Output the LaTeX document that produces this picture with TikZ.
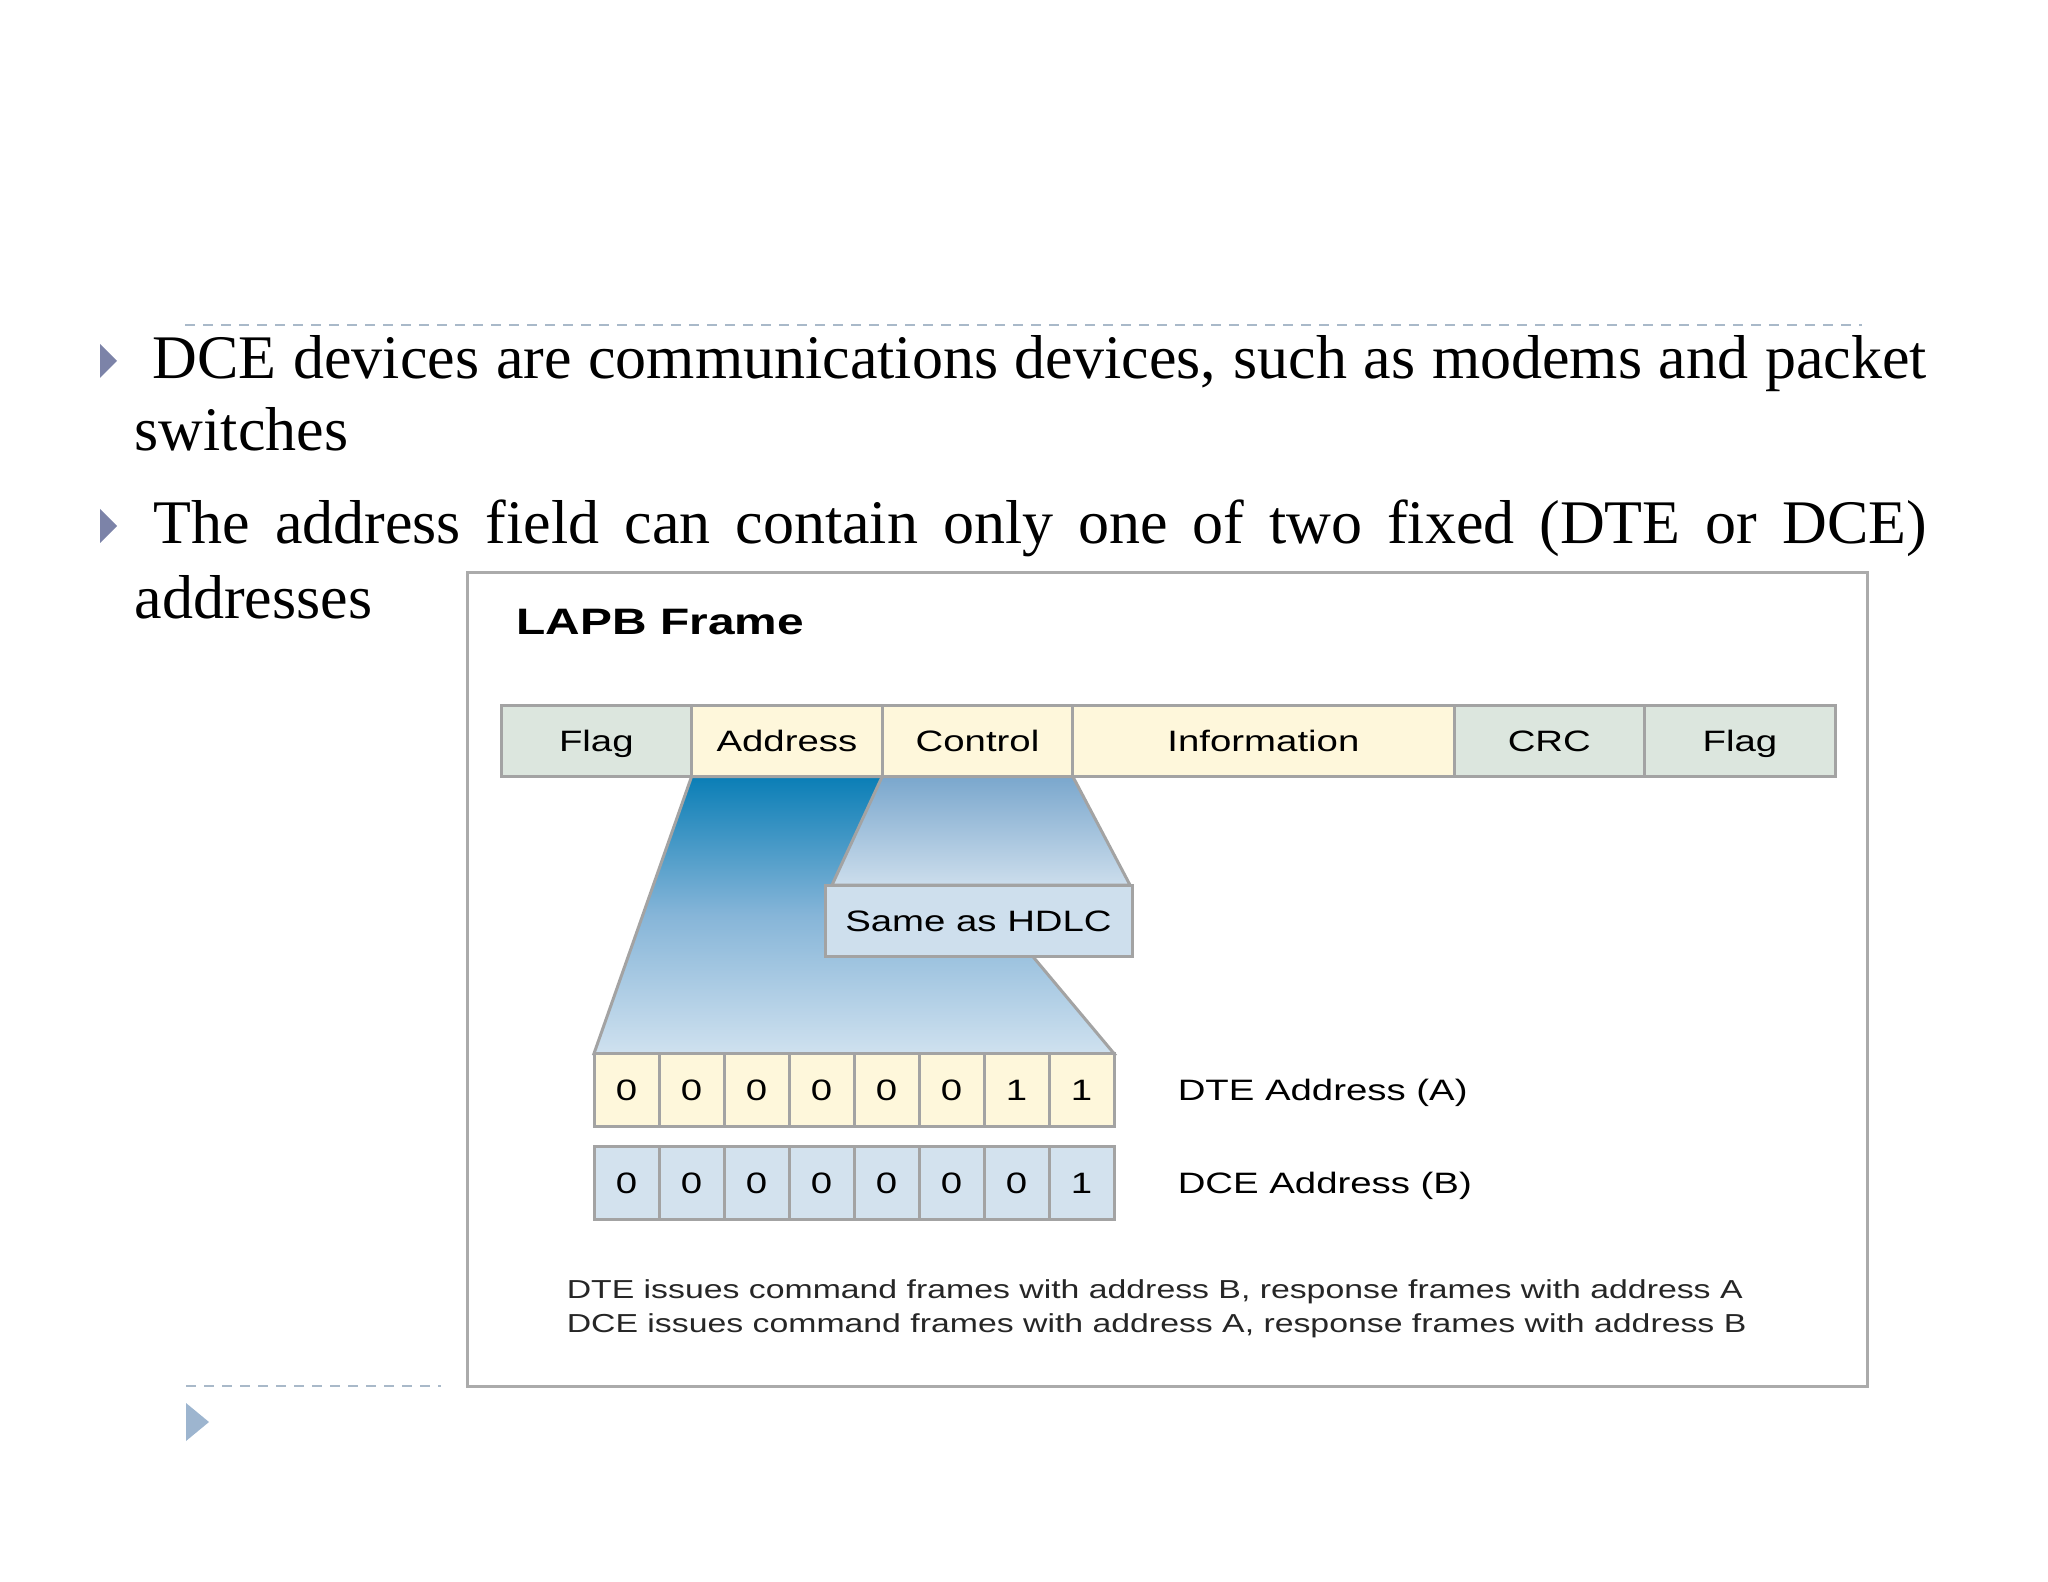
\documentclass[tikz,border=0pt]{standalone}
\usepackage{fontspec}
\setmainfont{Liberation Serif}
\newfontfamily\diagfont[FakeStretch=1.3]{Liberation Sans}
\usetikzlibrary{positioning,backgrounds}

\definecolor{bulletslate}{HTML}{7C83A8}
\definecolor{bulletpale}{HTML}{9DB5CF}
\definecolor{dashgray}{HTML}{A9B9C9}
\definecolor{framegray}{HTML}{ABABAB}
\definecolor{cellgray}{HTML}{A3A3A3}
\definecolor{flaggreen}{HTML}{DCE6DE}
\definecolor{fieldcream}{HTML}{FEF7DB}
\definecolor{bitblue}{HTML}{D3E2EE}
\definecolor{hdlcblue}{HTML}{CEDFED}
\definecolor{fantop}{HTML}{0A7EB6}
\definecolor{fanmid}{HTML}{86B5D8}
\definecolor{fanbottom}{HTML}{CFE1EF}
\definecolor{ctrltop}{HTML}{7AA7CD}
\definecolor{ctrlbottom}{HTML}{CCDDEC}

\tikzset{every picture/.style={line width=0.75pt}}
\tikzset{
  bodytext/.style={anchor=base west, inner sep=0pt, font=\fontsize{31}{37}\selectfont},
  fieldbox/.style={draw=cellgray, line width=1.5pt, minimum width=95.3pt, minimum height=35.5pt,
    inner sep=0pt, outer sep=0pt, text height=10.6pt, text depth=0pt,
    font=\diagfont\fontsize{14.75}{17}\selectfont},
  bitbox/.style={fieldbox, minimum width=32.5pt, minimum height=36.5pt},
  sidelabel/.style={inner sep=0pt, text height=10.6pt, text depth=0pt,
    font=\diagfont\fontsize{14.75}{17}\selectfont},
  notetext/.style={anchor=base west, inner sep=0pt, text=black!85,
    font=\diagfont\fontsize{13}{16}\selectfont},
  dashrule/.style={dashgray, line width=1pt, dash pattern=on 5pt off 4pt}
}

\begin{document}
\begin{tikzpicture}[x=0.5pt,y=0.5pt,yscale=-1,xscale=1]
\useasboundingbox (0,0) rectangle (2048,1582);

%Straight Lines
\draw [dashrule] (185,325) -- (1862,325) ;
\draw [dashrule] (186,1386) -- (441,1386) ;

%Shape: Triangle
\fill [bulletslate] (100,344) -- (117,361) -- (100,378) -- cycle ;
\fill [bulletslate] (100,509) -- (117,526) -- (100,543) -- cycle ;
\fill [bulletpale] (186,1403) -- (209,1422) -- (186,1441) -- cycle ;

% Text Node
\node [bodytext] (line1) at (152,379) {\makebox[887pt][s]{DCE devices are communications devices, such as modems and packet}};
% Text Node
\node [bodytext] (line2) at (134,451) {switches};
% Text Node
\node [bodytext] (line3) at (153,544) {\makebox[886.5pt][s]{The address field can contain only one of two fixed (DTE or DCE)}};
% Text Node
\node [bodytext] (line4) at (134,618) {addresses};

%Shape: Rectangle
\draw [framegray, line width=1.5pt] (467,573) rectangle (1867,1386) ;

% Text Node
\node [anchor=base west, inner sep=0pt, font=\diagfont\bfseries\fontsize{18.4}{22}\selectfont] (title) at (516,634) {LAPB Frame};

% frame fields
\node [fieldbox, fill=flaggreen] (flag1) at (596.3,741) {Flag};
\node [fieldbox, fill=fieldcream, right=0pt of flag1] (addr) {Address};
\node [fieldbox, fill=fieldcream, right=0pt of addr] (ctrl) {Control};
\node [fieldbox, fill=fieldcream, right=0pt of ctrl, minimum width=190.6pt] (info) {Information};
\node [fieldbox, fill=flaggreen, right=0pt of info] (crc) {CRC};
\node [fieldbox, fill=flaggreen, right=0pt of crc] (flag2) {Flag};

% control field
\node [fieldbox, fill=hdlcblue, minimum width=153.5pt] (hdlc) at (978.5,920.5) {Same as HDLC};

% address bits
\foreach \b [count=\i] in {0,0,0,0,0,0,1,1}
  \node [bitbox, fill=fieldcream] (dte\i) at ({561.5+65*\i},1090) {\b};
\foreach \b [count=\i] in {0,0,0,0,0,0,0,1}
  \node [bitbox, fill=bitblue, below=10pt of dte\i] (dce\i) {\b};

% Text Node
\node [sidelabel, right=31.5pt of dte8] (dtelabel) {DTE Address (A)};
% Text Node
\node [sidelabel, right=31.5pt of dce8] (dcelabel) {DCE Address (B)};

% Text Node
\node [notetext] (note1) at (566,1298) {DTE issues command frames with address B, response frames with address A};
% Text Node
\node [notetext] (note2) at ([yshift=17pt]note1.base west) {DCE issues command frames with address A, response frames with address B};

%Shape: Polygon (fans behind the fields)
\begin{scope}[on background layer]
\shadedraw [draw=cellgray, line width=1.5pt, top color=fantop, bottom color=fanbottom, middle color=fanmid]
  (addr.south west) -- (addr.south east) -- (dte8.north east) -- (dte1.north west) -- cycle ;
\shadedraw [draw=cellgray, line width=1.5pt, top color=ctrltop, bottom color=ctrlbottom]
  (ctrl.south west) -- (ctrl.south east) -- ([xshift=-1pt]hdlc.north east) -- ([xshift=3.5pt]hdlc.north west) -- cycle ;
\end{scope}

\end{tikzpicture}
\end{document}
